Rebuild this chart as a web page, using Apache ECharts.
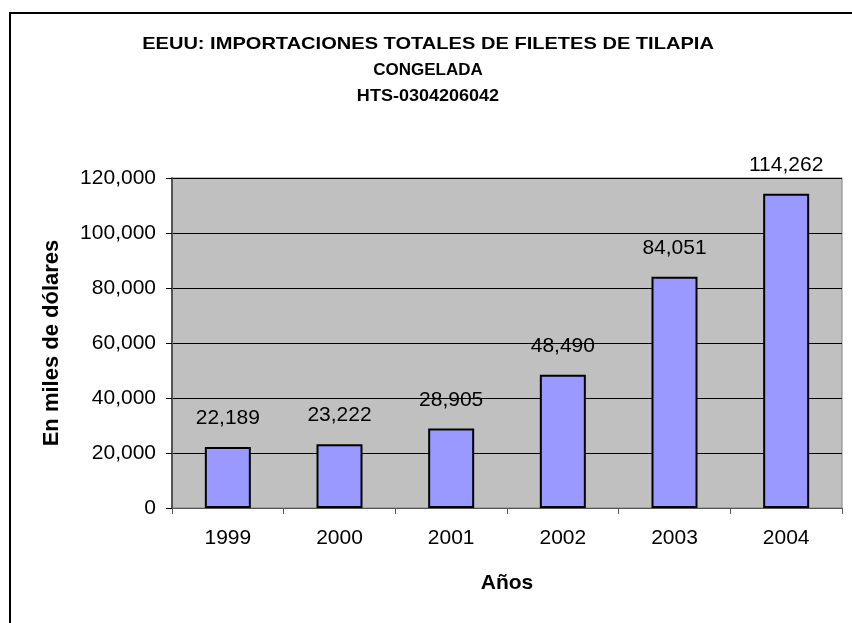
<!DOCTYPE html>
<html>
<head>
<meta charset="utf-8">
<script src="https://cdn.jsdelivr.net/npm/echarts@6/dist/echarts.min.js"></script>
<style>
  html, body { margin: 0; padding: 0; background: #fff; }
  #chart { width: 852px; height: 623px; }
</style>
</head>
<body>
<div id="chart"></div>
<script>
const years = ["1999", "2000", "2001", "2002", "2003", "2004"]
const imports = [22189, 23222, 28905, 48490, 84051, 114262]
const yTicks = [0, 20000, 40000, 60000, 80000, 100000, 120000]
const titleLines = ["EEUU: IMPORTACIONES TOTALES DE FILETES DE TILAPIA", "CONGELADA", "HTS-0304206042"]

const font = "Liberation Sans, Arial, sans-serif"
const fmt = v => v.toLocaleString("en-US")

const chart = echarts.init(document.getElementById("chart"))

// title lines as text; the first one is stretched wider like in the original
const titleStretch = [1.18, 1.0, 1.06]
const titleText = titleLines.map((t, i) => ({
  type: "text",
  x: 428,
  y: 44 + i * 26,
  scaleX: titleStretch[i],
  silent: true,
  style: {
    x: 0,
    y: 0,
    text: t,
    fill: "#000",
    font: "bold 17px " + font,
    align: "center",
    verticalAlign: "middle"
  }
}))

chart.setOption({
  animation: false,
  textStyle: { fontFamily: font },
  graphic: [
    {
      type: "rect",
      shape: { x: 10, y: 13, width: 900, height: 700 },
      style: { fill: "none", stroke: "#000", lineWidth: 2 },
      silent: true
    }
  ].concat(titleText),
  grid: {
    left: 172,
    right: 10,
    top: 178,
    bottom: 115,
    show: true,
    backgroundColor: "#C0C0C0",
    borderColor: "#808080",
    borderWidth: 1
  },
  xAxis: {
    type: "category",
    data: years,
    name: "Años",
    nameLocation: "middle",
    nameGap: 65,
    nameTextStyle: { fontFamily: font, fontSize: 21, fontWeight: "bold", color: "#000" },
    axisLine: { lineStyle: { color: "#555", width: 1 } },
    axisTick: { show: true, length: 6, lineStyle: { color: "#555" } },
    axisLabel: { fontSize: 21, color: "#000", margin: 20 }
  },
  yAxis: {
    type: "value",
    min: yTicks[0],
    max: yTicks[yTicks.length - 1],
    interval: 20000,
    name: "En miles de dólares",
    nameLocation: "middle",
    nameGap: 109,
    nameTextStyle: { fontFamily: font, fontSize: 22, fontWeight: "bold", color: "#000" },
    axisLine: { show: true, lineStyle: { color: "#555", width: 2 } },
    axisTick: { show: true, length: 6, lineStyle: { color: "#000" } },
    axisLabel: { fontSize: 21, color: "#000", margin: 16, formatter: v => fmt(v) },
    splitLine: { lineStyle: { color: "#000", width: 1 } }
  },
  series: [
    {
      type: "bar",
      data: imports,
      barWidth: 46,
      itemStyle: { color: "#9999FF", borderColor: "#000", borderWidth: 2 },
      label: {
        show: true,
        position: "top",
        distance: 18,
        fontSize: 21,
        color: "#000",
        formatter: p => fmt(p.value)
      }
    }
  ]
})
</script>
</body>
</html>
